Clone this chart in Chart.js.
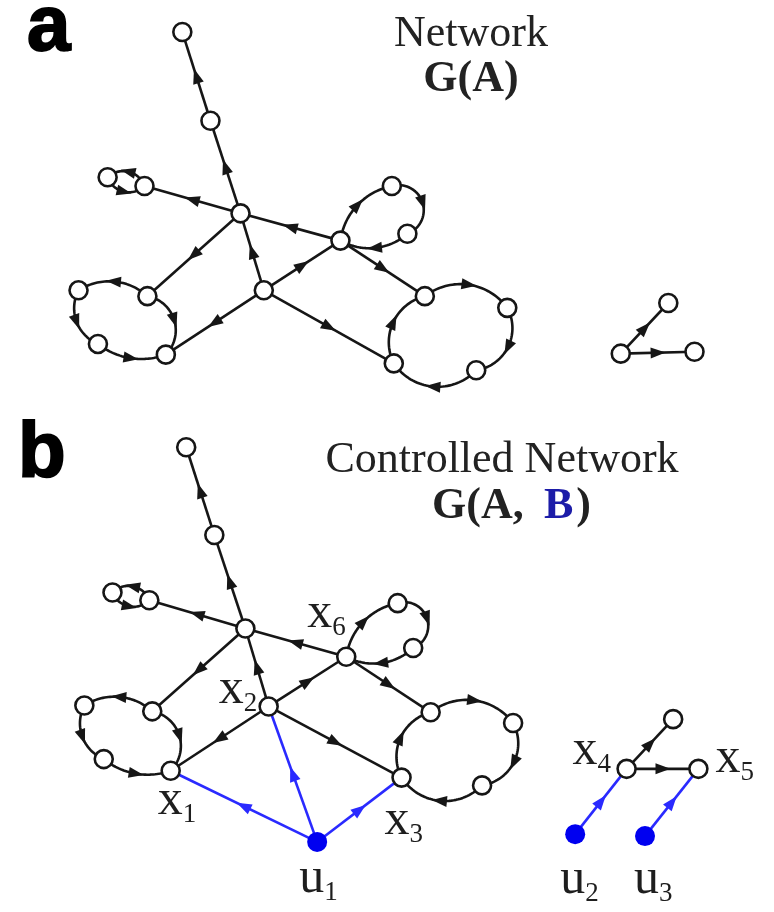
<!DOCTYPE html>
<html lang="en">
<head>
<meta charset="UTF-8">
<title>Network G(A) and controlled network G(A, B)</title>
<style>
  body { margin: 0; background: #fff; }
  .chart-container { width: 774px; height: 912px; }
</style>
</head>
<body>
<div class="chart-container"><canvas id="netChart"></canvas></div>
<script src="https://cdn.jsdelivr.net/npm/chart.js"></script>
<script>
// node positions (pixel units of the 774x912 picture)
// 0 top, 1 upper, 2 pair left, 3 pair right, 4 hub, 5 x6, 6 x2, 7-9 left ring,
// 10 x1, 11-12 small loop, 13-15 right ring, 16 x3, 17 x4, 18 x4 top, 19 x5
const nodesAX = [176, 205, 99, 137, 236, 339, 260, 140, 69, 89, 159, 392, 408, 426, 511, 479, 394, 628, 677, 704];
const nodesAY = [21, 112, 170, 179, 207, 235, 286, 292, 286, 341, 352, 179, 228, 292, 304, 368, 361, 351, 299, 349];
const nodesBX = [180, 209, 104, 142, 241, 345, 265, 145, 75, 95, 164, 398, 414, 432, 517, 485, 402, 634, 682, 708];
const nodesBY = [447, 537, 596, 604, 633, 662, 713, 718, 712, 767, 779, 607, 653, 719, 730, 794, 786, 777, 726, 777];

// directed links [from, to], same graph in both panels
const links = [[4, 1], [1, 0], [4, 3], [3, 2], [2, 3], [5, 4], [4, 7], [6, 4], [6, 5], [6, 10], [6, 16], [5, 13],
  [7, 8], [8, 9], [9, 10], [7, 10], [5, 11], [11, 12], [12, 5], [13, 14], [14, 15], [15, 16], [16, 13], [17, 18], [17, 19]];

// driver nodes u1..u3 (panel b) and the links they drive [driver, node]
const driverX = [315, 581, 653];
const driverY = [852, 844, 846];
const driverLinks = [[0, 10], [0, 6], [0, 16], [1, 17], [2, 19]];

const stateNames = ['x1', 'x2', 'x3', 'x4', 'x5', 'x6'];
const stateNodes = [10, 6, 16, 17, 19, 5];
const driverNames = ['u1', 'u2', 'u3'];

// link curvature (sagitta / chord, sign gives the side), 0 = straight
const linkBend = [0, 0, 0, -0.27, -0.27, 0, 0, 0, 0, 0, 0, 0,
  -0.17, -0.22, -0.13, 0.3, 0.16, 0.48, 0.16, 0.21, 0.26, 0.24, 0.24, 0, 0];

// label placement relative to the node (left x, baseline)
const stateLabelOffset = [[-13, 43], [-50, -3], [-17, 56], [-54, -5], [17, 3], [-39, -30]];
const driverLabelOffset = [[-18, 50], [-15, 59], [-11, 57]];

const BLACK = '#161616';
const BLUE = '#2a2aff';

function toPoints(xs, ys) {
  return xs.map((x, i) => ({ x: x, y: ys[i] }));
}

function drawLink(ctx, p0, p1, bend, color) {
  const dx = p1.x - p0.x, dy = p1.y - p0.y, L = Math.hypot(dx, dy);
  const ux = dx / L, uy = dy / L, nx = uy, ny = -ux;
  const mx = (p0.x + p1.x) / 2, my = (p0.y + p1.y) / 2;
  const s = bend * L;
  let ax = mx, ay = my;
  ctx.strokeStyle = color;
  ctx.fillStyle = color;
  ctx.beginPath();
  ctx.moveTo(p0.x, p0.y);
  if (Math.abs(s) < 0.01) {
    ctx.lineTo(p1.x, p1.y);
  } else {
    ax = mx + nx * s; ay = my + ny * s;
    const R = (L * L / 4 + s * s) / (2 * Math.abs(s));
    const k = s - Math.sign(s) * R;
    const ox = mx + nx * k, oy = my + ny * k;
    const wrap = a => { while (a > Math.PI) a -= 2 * Math.PI; while (a <= -Math.PI) a += 2 * Math.PI; return a; };
    const a0 = Math.atan2(p0.y - oy, p0.x - ox);
    const aA = Math.atan2(ay - oy, ax - ox);
    const a1 = Math.atan2(p1.y - oy, p1.x - ox);
    const sweep = wrap(aA - a0) + wrap(a1 - aA);
    for (let i = 1; i <= 40; i++) {
      const a = a0 + sweep * i / 40;
      ctx.lineTo(ox + R * Math.cos(a), oy + R * Math.sin(a));
    }
  }
  ctx.stroke();
  // arrow head at the middle of the link
  ctx.beginPath();
  ctx.moveTo(ax + ux * 8, ay + uy * 8);
  ctx.lineTo(ax - ux * 7 + nx * 5.5, ay - uy * 7 + ny * 5.5);
  ctx.lineTo(ax - ux * 7 - nx * 5.5, ay - uy * 7 - ny * 5.5);
  ctx.closePath();
  ctx.fill();
}

const linkPlugin = {
  id: 'networkLinks',
  beforeDatasetsDraw(chart) {
    const ctx = chart.ctx;
    const sx = chart.scales.x, sy = chart.scales.y;
    const px = (x, y) => ({ x: sx.getPixelForValue(x), y: sy.getPixelForValue(y) });
    ctx.save();
    ctx.lineWidth = 2.6;
    ctx.lineJoin = 'round';
    [[nodesAX, nodesAY], [nodesBX, nodesBY]].forEach(([xs, ys]) => {
      links.forEach(([a, b], i) => {
        drawLink(ctx, px(xs[a], ys[a]), px(xs[b], ys[b]), linkBend[i], BLACK);
      });
    });
    driverLinks.forEach(([d, n]) => {
      drawLink(ctx, px(driverX[d], driverY[d]), px(nodesBX[n], nodesBY[n]), 0, BLUE);
    });
    ctx.restore();
  }
};

function subLabel(ctx, text, x, y) {
  ctx.font = "50px 'Liberation Serif'";
  ctx.fillText(text[0], x, y);
  const w = ctx.measureText(text[0]).width;
  ctx.font = "27px 'Liberation Serif'";
  ctx.fillText(text.slice(1), x + w, y + 8);
}

const textPlugin = {
  id: 'figureText',
  afterDatasetsDraw(chart) {
    const ctx = chart.ctx;
    const sx = chart.scales.x, sy = chart.scales.y;
    ctx.save();
    ctx.textBaseline = 'alphabetic';

    // panel letters
    ctx.fillStyle = '#000';
    ctx.strokeStyle = '#000';
    ctx.lineWidth = 2;
    ctx.font = "bold 78px 'Liberation Sans'";
    ctx.textAlign = 'left';
    ctx.fillText('a', 27, 50);
    ctx.strokeText('a', 27, 50);
    ctx.fillText('b', 18, 477);
    ctx.strokeText('b', 18, 477);

    // titles
    ctx.fillStyle = '#222';
    ctx.textAlign = 'center';
    ctx.font = "44px 'Liberation Serif'";
    ctx.fillText('Network', 471, 46);
    ctx.fillText('Controlled Network', 502, 472);
    ctx.font = "bold 44px 'Liberation Serif'";
    ctx.fillText('G(A)', 471, 91);
    ctx.textAlign = 'left';
    ctx.fillText('G(A,', 432, 518);
    ctx.fillStyle = '#1c1ca8';
    ctx.fillText('B', 544, 518);
    ctx.fillStyle = '#222';
    ctx.fillText(')', 544 + ctx.measureText('B').width + 3, 518);

    // node labels
    ctx.fillStyle = '#1e1e1e';
    stateNames.forEach((name, i) => {
      const n = stateNodes[i];
      const x = sx.getPixelForValue(nodesBX[n]) + stateLabelOffset[i][0];
      const y = sy.getPixelForValue(nodesBY[n]) + stateLabelOffset[i][1];
      subLabel(ctx, name, x, y);
    });
    driverNames.forEach((name, i) => {
      const x = sx.getPixelForValue(driverX[i]) + driverLabelOffset[i][0];
      const y = sy.getPixelForValue(driverY[i]) + driverLabelOffset[i][1];
      subLabel(ctx, name, x, y);
    });
    ctx.restore();
  }
};

const nodeStyle = {
  pointRadius: 9,
  pointBorderWidth: 2.6,
  pointBackgroundColor: '#fff',
  pointBorderColor: BLACK,
  showLine: false
};

const ctx = document.getElementById('netChart').getContext('2d');
const netChart = new Chart(ctx, {
  type: 'scatter',
  data: {
    datasets: [
      Object.assign({ label: 'G(A)', data: toPoints(nodesAX, nodesAY) }, nodeStyle),
      Object.assign({ label: 'G(A, B)', data: toPoints(nodesBX, nodesBY) }, nodeStyle),
      {
        label: 'drivers',
        data: toPoints(driverX, driverY),
        pointRadius: 10,
        pointBorderWidth: 0,
        pointBackgroundColor: '#0000f0',
        pointBorderColor: '#0000f0',
        showLine: false
      }
    ]
  },
  options: {
    responsive: true,
    maintainAspectRatio: false,
    animation: false,
    events: [],
    layout: { padding: 0 },
    scales: {
      x: { type: 'linear', min: 0, max: 774, display: false },
      y: { type: 'linear', min: 0, max: 912, reverse: true, display: false }
    },
    plugins: {
      legend: { display: false },
      tooltip: { enabled: false }
    }
  },
  plugins: [linkPlugin, textPlugin]
});
</script>
</body>
</html>
